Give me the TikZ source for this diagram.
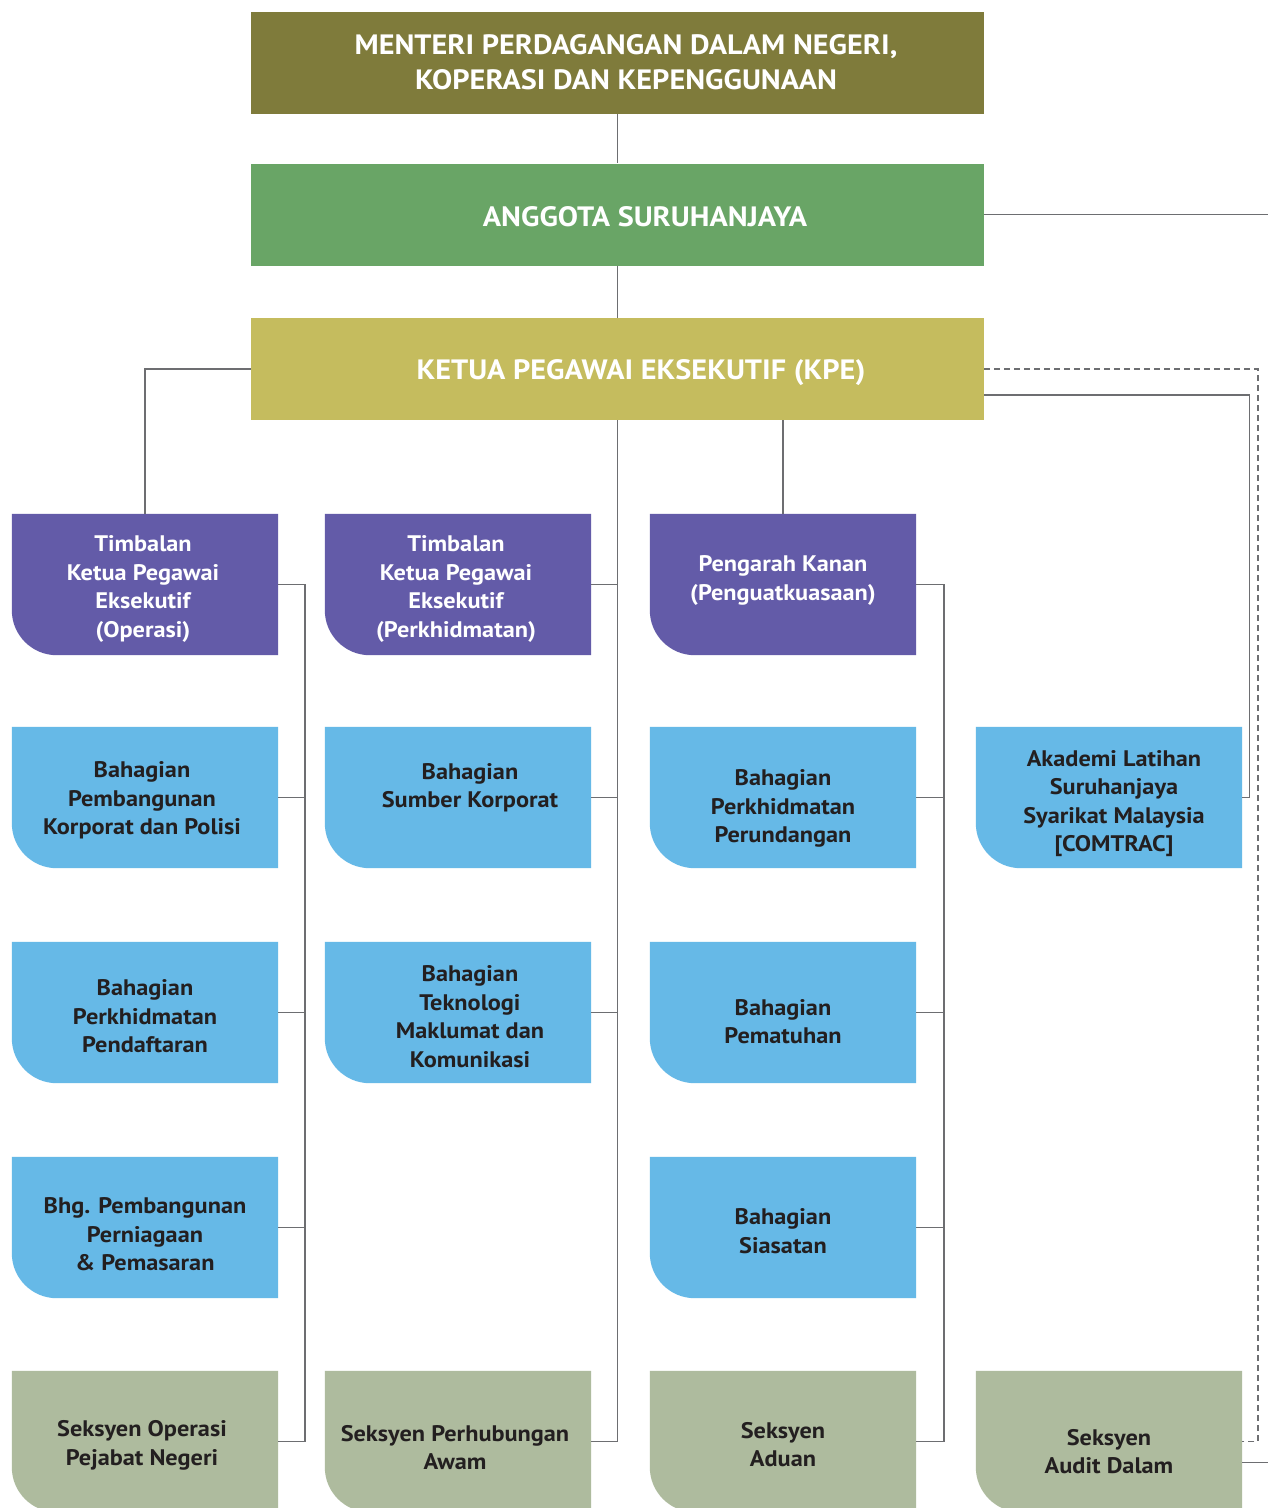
\documentclass[tikz,border=0pt]{standalone}
\usepackage{fontspec}
\setmainfont[FakeStretch=1.08]{PT Sans}
\usetikzlibrary{calc}
\definecolor{olivebx}{HTML}{7F7B3B}
\definecolor{greenbx}{HTML}{69A566}
\definecolor{kpebx}{HTML}{C5BC5E}
\definecolor{purplebx}{HTML}{635BA8}
\definecolor{bluebx}{HTML}{66B9E7}
\definecolor{sagebx}{HTML}{AEBB9E}
\definecolor{txtdark}{HTML}{231F20}
\definecolor{linegray}{HTML}{6D6E71}
\tikzset{
  x=1pt, y=-1pt,
  boxshape/.style={rectangle, minimum width=266pt, minimum height=141pt, inner sep=0pt, draw=none},
  boxtext/.style={font=\bfseries\fontsize{22.5}{28.5}\selectfont, align=center, inner sep=0pt},
  topbox/.style={rectangle, minimum width=733pt, minimum height=102pt, inner sep=0pt, draw=none},
  toptext/.style={font=\bfseries\fontsize{28}{35}\selectfont, align=center, inner sep=0pt, text=white},
  conn/.style={draw=linegray, line width=1.5pt},
  dashconn/.style={draw=linegray, line width=1.3pt, dash pattern=on 6pt off 4pt},
}
\newcommand\orgbx[6]{%
  \node[boxshape] (#1) at (#2) {};
  \fill[#3] (#1.north west) -- (#1.north east) -- (#1.south east) -- ([xshift=45pt]#1.south west) arc[start angle=270,end angle=180,radius=45pt] -- cycle;
  \node[boxtext,text=#4] (#1-t) at ([shift={(#5)}]#1.center) {#6};}
\begin{document}
\begin{tikzpicture}
\useasboundingbox (0,0) rectangle (1268,1508);
\fill[white] (0,0) rectangle (1268,1508);
\clip (0,0) rectangle (1268,1508);

% top boxes
\node[topbox, fill=olivebx] (mtr) at (617.5,62.5) {};
\node[toptext] (mtr-t) at (626,62.5) {MENTERI PERDAGANGAN DALAM NEGERI,\\KOPERASI DAN KEPENGGUNAAN};
\node[topbox, fill=greenbx] (ang) at (617.5,214.5) {};
\node[toptext] (ang-t) at (645,217) {ANGGOTA SURUHANJAYA};
\node[topbox, fill=kpebx] (kpe) at (617.5,369) {};
\node[toptext] (kpe-t) at (641,373) {KETUA PEGAWAI EKSEKUTIF (KPE)};

% row 1
\orgbx{t1}{145,584.5}{purplebx}{white}{-2,4.5}{Timbalan\\Ketua Pegawai\\Eksekutif\\(Operasi)}
\orgbx{t2}{458,584.5}{purplebx}{white}{-2,4.5}{Timbalan\\Ketua Pegawai\\Eksekutif\\(Perkhidmatan)}
\orgbx{pk}{783,584.5}{purplebx}{white}{0,-4}{Pengarah Kanan\\(Penguatkuasaan)}
% row 2
\orgbx{b11}{145,797.5}{bluebx}{txtdark}{-3,3}{Bahagian\\Pembangunan\\Korporat dan Polisi}
\orgbx{b21}{458,797.5}{bluebx}{txtdark}{12,-10}{Bahagian\\Sumber Korporat}
\orgbx{b31}{783,797.5}{bluebx}{txtdark}{0,11}{Bahagian\\Perkhidmatan\\Perundangan}
\orgbx{ak}{1109,797.5}{bluebx}{txtdark}{5,6}{Akademi Latihan\\Suruhanjaya\\Syarikat Malaysia\\{[COMTRAC]}}
% row 3
\orgbx{b12}{145,1012.5}{bluebx}{txtdark}{0,4}{Bahagian\\Perkhidmatan\\Pendaftaran}
\orgbx{b22}{458,1012.5}{bluebx}{txtdark}{12,4}{Bahagian\\Teknologi\\Maklumat dan\\Komunikasi}
\orgbx{b32}{783,1012.5}{bluebx}{txtdark}{0,9}{Bahagian\\Pematuhan}
% row 4
\orgbx{b13}{145,1227.5}{bluebx}{txtdark}{0,7}{Bhg. Pembangunan\\Perniagaan\\\& Pemasaran}
\orgbx{b33}{783,1227.5}{bluebx}{txtdark}{0,3.5}{Bahagian\\Siasatan}
% row 5
\orgbx{s1}{145,1441.5}{sagebx}{txtdark}{-3,4}{Seksyen Operasi\\Pejabat Negeri}
\orgbx{s2}{458,1441.5}{sagebx}{txtdark}{-3,6}{Seksyen Perhubungan\\Awam}
\orgbx{s3}{783,1441.5}{sagebx}{txtdark}{0,3}{Seksyen\\Aduan}
\orgbx{ad}{1109,1441.5}{sagebx}{txtdark}{0,10}{Seksyen\\Audit Dalam}

% connectors
\draw[conn] (mtr.south) -- (ang.north);
\draw[conn] (ang.south) -- (kpe.north);
\coordinate (angr) at (1268,214.5);
\draw[conn] (ang.east) -- (angr);
\draw[conn] (kpe.west) -| (t1.north);
\draw[conn] (kpe.south) |- (s2.east);
\foreach \b in {t2,b21,b22} \draw[conn] (\b.east) -- (\b.east -| kpe.south);
\draw[conn] (kpe.south -| pk.north) -- (pk.north);

\coordinate (sp1) at (305,0);
\draw[conn] (t1.east) -| (sp1 |- s1.east) -- (s1.east);
\foreach \b in {b11,b12,b13} \draw[conn] (\b.east) -- (\b.east -| sp1);

\coordinate (sp3) at (944,0);
\draw[conn] (pk.east) -| (sp3 |- s3.east) -- (s3.east);
\foreach \b in {b31,b32,b33} \draw[conn] (\b.east) -- (\b.east -| sp3);

\coordinate (akc) at (1249.5,0);
\draw[conn] ([yshift=-26pt]kpe.east) -| (akc |- ak.east) -- (ak.east);
\coordinate (dsh) at (1258,0);
\draw[dashconn] (kpe.east) -| (dsh |- ad.east) -- (ad.east);
\coordinate (adr) at (1268,1462.5);
\draw[conn] (ad.east |- adr) -- (adr);
\end{tikzpicture}
\end{document}
